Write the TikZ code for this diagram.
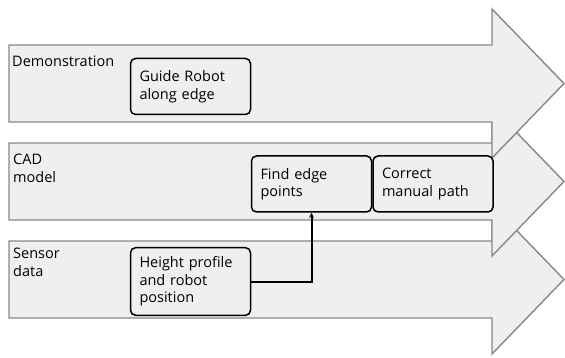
\documentclass[tikz,border=0pt]{standalone}
\usepackage{fontspec}
\setmainfont{Open Sans}
\usetikzlibrary{positioning,arrows.meta}
\definecolor{lanefill}{HTML}{EFEFEF}
\definecolor{laneline}{HTML}{888888}

\begin{document}
\begin{tikzpicture}[
  x=1pt, y=-1pt,
  node distance=0pt,
  lane/.style={draw=laneline, fill=lanefill, line width=1.4pt, line join=miter},
  lanelabel/.style={anchor=north west, align=left, inner sep=0pt, font=\fontsize{14.5}{17.5}\selectfont},
  task/.style={draw, fill=lanefill, rounded corners=5pt, line width=1.5pt, align=left,
    text width=102pt, minimum width=120pt, minimum height=56pt, inner sep=9pt,
    font=\fontsize{14.5}{17.5}\selectfont},
  link/.style={-{Stealth[length=5pt, width=4.5pt]}, line width=2pt}
]
\useasboundingbox (0,0) rectangle (565,358);

% three lanes, lowest one first
\foreach \yc in {279.5,181.5,83.5}
  \draw[lane] (9,\yc-38.5) -- (492,\yc-38.5) -- (492,\yc-74.5) -- (564,\yc)
    -- (492,\yc+74.5) -- (492,\yc+38.5) -- (9,\yc+38.5) -- cycle;

\node[lanelabel] (demo) at (12,56) {Demonstration};
\node[lanelabel] (cad) at (13,154) {CAD\\model};
\node[lanelabel] (sensor) at (13,248) {Sensor\\data};

\node[task] (guide) at (190.5,86.5) {Guide Robot\\along edge};
\node[task] (find) at (311.5,184) {Find edge\\points};
\node[task, right=of find] (correct) {Correct\\manual path};
\node[task] (height) at (190.5,281.5) {Height profile\\and robot\\position};

\draw[link] (height.east) -| (find.south);
\end{tikzpicture}
\end{document}
